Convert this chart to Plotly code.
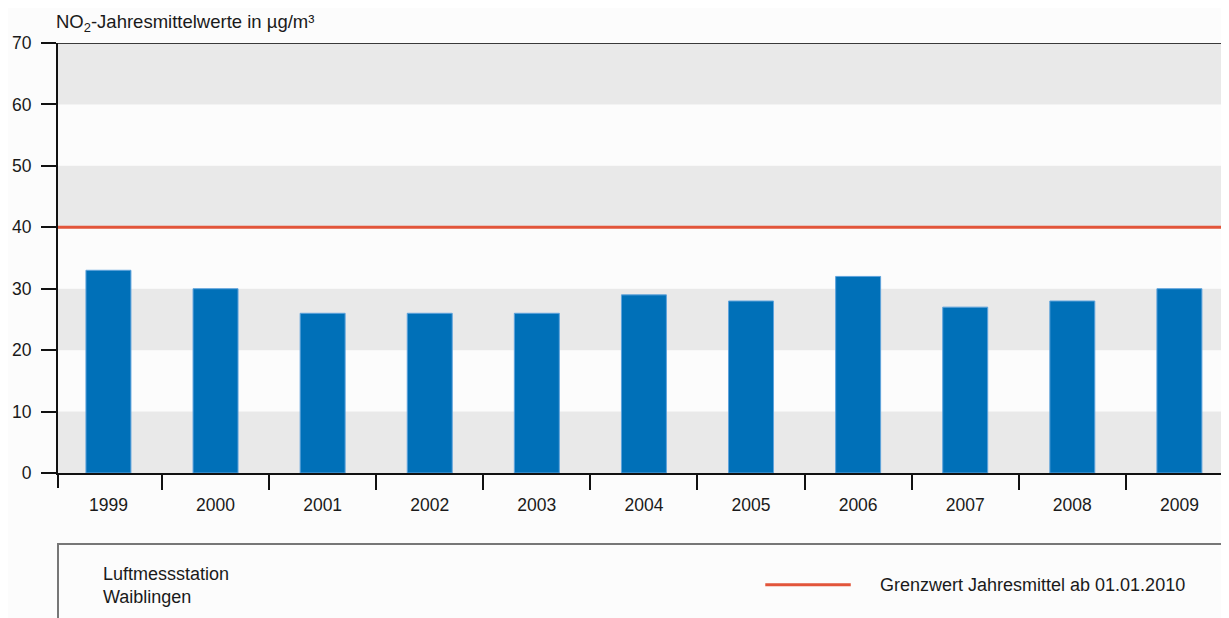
import plotly.graph_objects as go

years = ["1999", "2000", "2001", "2002", "2003", "2004", "2005", "2006", "2007", "2008", "2009"]
no2_values = [33, 30, 26, 26, 26, 29, 28, 32, 27, 28, 30]
grenzwert = 40
y_ticks = [0, 10, 20, 30, 40, 50, 60, 70]
band_starts = [0, 20, 40, 60]

FONT = "Liberation Sans, Arial, sans-serif"
TXT = "#1a1a1a"

fig = go.Figure()
fig.add_trace(go.Bar(
    x=years, y=no2_values, width=0.42,
    marker=dict(color="#0070b8", line=dict(color="#5fa3dc", width=1)),
    showlegend=False, hoverinfo="x+y",
))

shapes = []
for b in band_starts:
    shapes.append(dict(type="rect", xref="paper", yref="y", x0=0, x1=1, y0=b, y1=b + 10,
                       fillcolor="#e9e9e9", line=dict(width=0), layer="below"))
# top line
shapes.append(dict(type="line", xref="paper", yref="y", x0=0, x1=1, y0=70, y1=70,
                   line=dict(color="#3a3a3a", width=2)))
# limit line
shapes.append(dict(type="line", xref="paper", yref="y", x0=0, x1=1, y0=grenzwert, y1=grenzwert,
                   line=dict(color="#e2553a", width=3)))
# tick at the left corner of the x axis
shapes.append(dict(type="line", xref="paper", yref="paper", x0=0, x1=0, y0=0, y1=-0.035,
                   line=dict(color="#111111", width=2)))
# legend box
shapes.append(dict(type="rect", xref="paper", yref="paper", x0=0, x1=1.2, y0=-0.165, y1=-0.5,
                   line=dict(color="#777777", width=2), fillcolor="rgba(0,0,0,0)"))
shapes.append(dict(type="line", xref="paper", yref="paper", x0=0.604, x1=0.677, y0=-0.26, y1=-0.26,
                   line=dict(color="#e2553a", width=3)))

annotations = [
    dict(text="NO<sub>2</sub>-Jahresmittelwerte in µg/m³", xref="paper", yref="paper",
         x=-0.003, y=1.046, xanchor="left", yanchor="middle", showarrow=False,
         font=dict(family=FONT, size=18.5, color=TXT)),
    dict(text="Luftmessstation<br>Waiblingen", xref="paper", yref="paper",
         x=0.0367, y=-0.262, xanchor="left", yanchor="middle", align="left", showarrow=False,
         font=dict(family=FONT, size=18, color=TXT)),
    dict(text="Grenzwert Jahresmittel ab 01.01.2010", xref="paper", yref="paper",
         x=0.700, y=-0.26, xanchor="left", yanchor="middle", showarrow=False,
         font=dict(family=FONT, size=18, color=TXT)),
]

fig.update_layout(
    width=1221, height=610,
    margin=dict(l=50, r=0, t=35, b=145),
    paper_bgcolor="#fcfcfc", plot_bgcolor="#fcfcfc",
    shapes=shapes, annotations=annotations,
    font=dict(family=FONT, size=17.5, color=TXT),
    xaxis=dict(type="category", range=[-0.471, 10.463], showgrid=False, zeroline=False,
               showline=True, linecolor="#111111", linewidth=2,
               ticks="outside", tickson="boundaries", ticklen=15, tickwidth=2, tickcolor="#111111",
               ticklabelstandoff=15,
               tickfont=dict(family=FONT, size=17.5, color=TXT), fixedrange=True),
    yaxis=dict(range=[0, 70], tickvals=y_ticks, showgrid=False, zeroline=False,
               showline=True, linecolor="#111111", linewidth=2,
               ticks="outside", ticklen=15, tickwidth=2, tickcolor="#111111",
               ticklabelstandoff=6,
               tickfont=dict(family=FONT, size=17.5, color=TXT), fixedrange=True),
)

fig.write_html("out.html")
